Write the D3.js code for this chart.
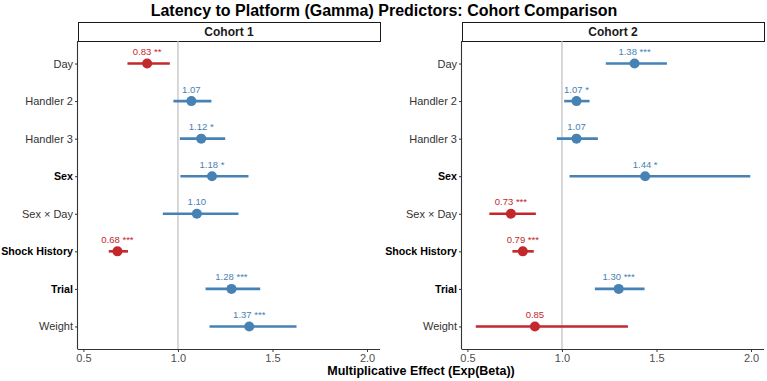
<!DOCTYPE html>
<html>
<head>
<meta charset="utf-8">
<script src="https://cdn.jsdelivr.net/npm/d3@7"></script>
<style>
  body { margin: 0; background: #fff; }
  text { font-family: "Liberation Sans", Arial, Helvetica, sans-serif; }
</style>
</head>
<body>
<svg id="chart" width="767" height="381"></svg>
<script>
// predictors, top to bottom
const predictors = ['Day', 'Handler 2', 'Handler 3', 'Sex', 'Sex × Day', 'Shock History', 'Trial', 'Weight'];
const boldPredictors = ['Sex', 'Shock History', 'Trial'];

// cohort 1 estimates and 95% CI (exp scale)
const c1Est   = [0.837, 1.071, 1.123, 1.180, 1.100, 0.680, 1.283, 1.377];
const c1Low   = [0.733, 0.976, 1.010, 1.013, 0.920, 0.634, 1.146, 1.167];
const c1High  = [0.957, 1.177, 1.250, 1.373, 1.320, 0.736, 1.435, 1.627];
const c1Label = ['0.83 **', '1.07', '1.12 *', '1.18 *', '1.10', '0.68 ***', '1.28 ***', '1.37 ***'];

// cohort 2
const c2Est   = [1.384, 1.077, 1.077, 1.440, 0.730, 0.793, 1.300, 0.857];
const c2Low   = [1.232, 1.012, 0.973, 1.040, 0.616, 0.738, 1.174, 0.544];
const c2High  = [1.555, 1.146, 1.190, 1.996, 0.862, 0.851, 1.437, 1.349];
const c2Label = ['1.38 ***', '1.07 *', '1.07', '1.44 *', '0.73 ***', '0.79 ***', '1.30 ***', '0.85'];

const xTicks = [0.5, 1.0, 1.5, 2.0];

const RED = '#C3282C';
const BLUE = '#4682B4';

const svg = d3.select('#chart');

// title
svg.append('text')
    .attr('x', 384).attr('y', 16)
    .attr('text-anchor', 'middle')
    .style('font-size', '16px').style('font-weight', 'bold').style('fill', '#000')
    .text('Latency to Platform (Gamma) Predictors: Cohort Comparison');

// x axis title
svg.append('text')
    .attr('x', 421).attr('y', 375)
    .attr('text-anchor', 'middle')
    .style('font-size', '12.5px').style('font-weight', 'bold').style('fill', '#000')
    .text('Multiplicative Effect (Exp(Beta))');

const panelTop = 41, panelBottom = 349, panelW = 302;

// shared x range over all CIs, with ggplot style 5% expansion
const allVals = c1Low.concat(c1High, c2Low, c2High);
const xMin = d3.min(allVals), xMax = d3.max(allVals);
const xPad = 0.05 * (xMax - xMin);

function toRows(est, low, high, label) {
    return predictors.map((p, i) => ({ name: p, est: est[i], low: low[i], high: high[i], label: label[i] }));
}

// one facet panel
function drawPanel(left, title, rows) {
    const x = d3.scaleLinear().domain([xMin - xPad, xMax + xPad]).range([left, left + panelW]);
    const y = d3.scalePoint().domain(predictors).range([panelTop, panelBottom]).padding(0.6);

    const g = svg.append('g');

    // strip
    g.append('rect')
        .attr('x', left + 0.5).attr('y', 22.5)
        .attr('width', panelW).attr('height', 19)
        .style('fill', '#fff').style('stroke', '#1a1a1a').style('stroke-width', 1);
    g.append('text')
        .attr('x', left + panelW / 2).attr('y', 36)
        .attr('text-anchor', 'middle')
        .style('font-size', '12px').style('font-weight', 'bold').style('fill', '#1a1a1a')
        .text(title);

    // reference line at 1
    g.append('line')
        .attr('x1', x(1)).attr('x2', x(1))
        .attr('y1', panelTop).attr('y2', panelBottom)
        .style('stroke', '#BEBEBE').style('stroke-width', 1.2);

    // axes
    const xAxis = g.append('g')
        .attr('transform', `translate(0,${panelBottom})`)
        .call(d3.axisBottom(x).tickValues(xTicks).tickFormat(d3.format('.1f')).tickSize(3).tickPadding(2));
    xAxis.select('.domain').attr('d', `M${left},0.5H${left + panelW}`).style('stroke', '#333').style('stroke-width', 1.1);
    xAxis.selectAll('.tick line').style('stroke', '#333');
    xAxis.selectAll('.tick text').style('font-size', '11px').style('fill', '#4d4d4d');

    const yAxis = g.append('g')
        .attr('transform', `translate(${left},0)`)
        .call(d3.axisLeft(y).tickSize(3).tickPadding(2));
    yAxis.select('.domain').attr('d', `M-0.5,${panelTop}V${panelBottom + 0.5}`).style('stroke', '#333').style('stroke-width', 1.1);
    yAxis.selectAll('.tick line').style('stroke', '#333');
    yAxis.selectAll('.tick text')
        .style('font-size', d => boldPredictors.includes(d) ? '10.7px' : '11px')
        .style('fill', d => boldPredictors.includes(d) ? '#000' : '#333')
        .style('font-weight', d => boldPredictors.includes(d) ? 'bold' : 'normal');

    const color = d => d.est < 1 ? RED : BLUE;

    // CI bars
    g.selectAll('line.ci')
        .data(rows)
        .enter()
        .append('line')
        .attr('class', 'ci')
        .attr('x1', d => x(d.low)).attr('x2', d => x(d.high))
        .attr('y1', d => y(d.name)).attr('y2', d => y(d.name))
        .style('stroke', color).style('stroke-width', 2.6);

    // points
    g.selectAll('circle')
        .data(rows)
        .enter()
        .append('circle')
        .attr('cx', d => x(d.est)).attr('cy', d => y(d.name))
        .attr('r', 5)
        .style('fill', color);

    // estimate labels
    g.selectAll('text.lab')
        .data(rows)
        .enter()
        .append('text')
        .attr('class', 'lab')
        .attr('x', d => x(d.est)).attr('y', d => y(d.name) - 8.5)
        .attr('text-anchor', 'middle')
        .style('font-size', '9.5px')
        .style('fill', color)
        .text(d => d.label);
}

drawPanel(78, 'Cohort 1', toRows(c1Est, c1Low, c1High, c1Label));
drawPanel(462, 'Cohort 2', toRows(c2Est, c2Low, c2High, c2Label));
</script>
</body>
</html>
